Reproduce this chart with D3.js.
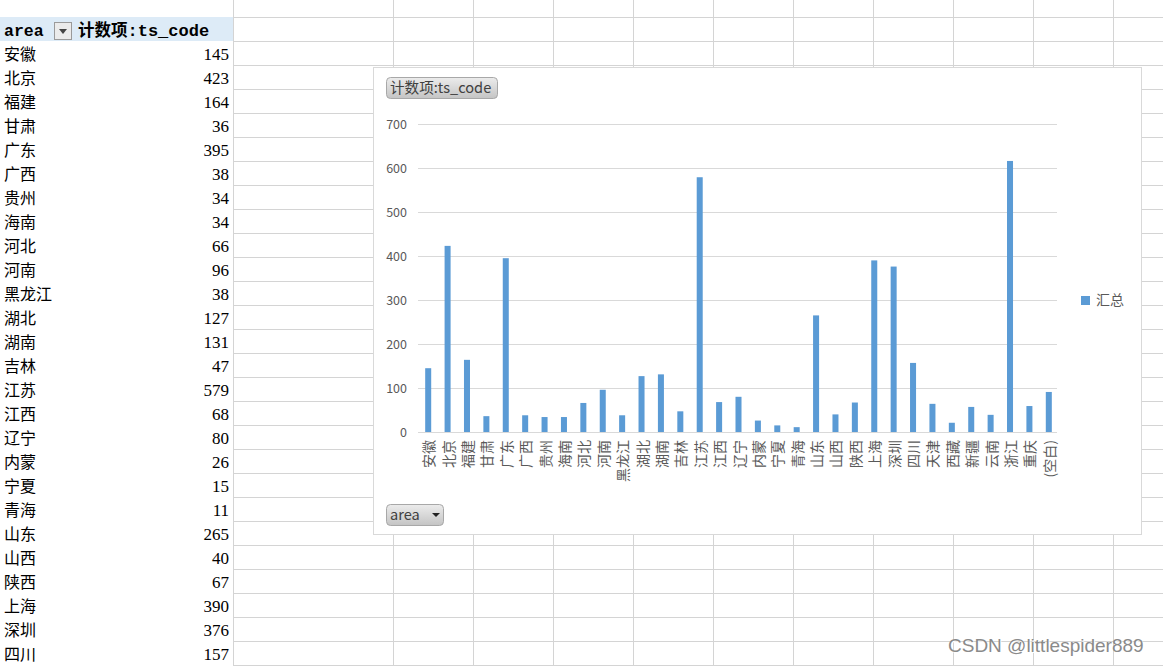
<!DOCTYPE html>
<html><head><meta charset="utf-8">
<script src="https://cdn.jsdelivr.net/npm/d3@7"></script>
<style>
html,body{margin:0;padding:0;background:#fff;overflow:hidden;}
svg{display:block;}
</style></head>
<body>
<svg id="c" width="1163" height="666"></svg>
<script>
// ---- data ----
const categories = ["安徽","北京","福建","甘肃","广东","广西","贵州","海南","河北","河南","黑龙江","湖北","湖南","吉林","江苏","江西","辽宁","内蒙","宁夏","青海","山东","山西","陕西","上海","深圳","四川","天津","西藏","新疆","云南","浙江","重庆","(空白)"];
const counts = [145,423,164,36,395,38,34,34,66,96,38,127,131,47,579,68,80,26,15,11,265,40,67,390,376,157,64,21,57,39,616,59,91];
const yTicks = [0,100,200,300,400,500,600,700];
const seriesName = "汇总";
const fieldName = "计数项:ts_code";
const rowField = "area";

const svg = d3.select("#c");
const W = 1163, H = 666;

// ---- spreadsheet grid ----
const grid = svg.append("g").attr("stroke","#d4d4d4").attr("stroke-width",1);
const colLines = [233,393,473,553,633,713,793,873,953,1033,1113];
for (let y = 17; y < H; y += 24) {
  grid.append("line").attr("x1",233).attr("x2",W).attr("y1",y+0.5).attr("y2",y+0.5);
}
colLines.forEach(x => grid.append("line").attr("x1",x+0.5).attr("x2",x+0.5).attr("y1",0).attr("y2",H));

// ---- pivot table ----
const tbl = svg.append("g");
tbl.append("rect").attr("x",0).attr("y",17).attr("width",233).attr("height",24).attr("fill","#ddebf7");
tbl.append("text").attr("x",4).attr("y",36).attr("font-family","Liberation Mono, monospace")
  .attr("font-weight","bold").attr("font-size",16.5).attr("fill","#000").text(rowField);
tbl.append("rect").attr("x",54.5).attr("y",22.5).attr("width",17).attr("height",17)
  .attr("fill","#ebebeb").attr("stroke","#9a9a9a");
tbl.append("path").attr("d","M59,29 L67,29 L63,34 Z").attr("fill","#444");
const hdr = tbl.append("text").attr("x",78).attr("y",36).attr("font-weight","bold").attr("font-size",16.5).attr("fill","#000");
hdr.append("tspan").attr("font-family","Noto Sans CJK SC").text("计数项");
hdr.append("tspan").attr("font-family","Liberation Mono, monospace").attr("font-size",17).text(":ts_code");

const nRows = 26;
categories.slice(0,nRows).forEach((c,i) => {
  const top = 41 + i*24;
  tbl.append("text").attr("x",4).attr("y",top+19).attr("font-family","Noto Sans CJK SC")
    .attr("font-size",16).attr("fill","#000").text(c);
  tbl.append("text").attr("x",229).attr("y",top+19).attr("text-anchor","end")
    .attr("font-family","Liberation Serif, serif").attr("font-size",17).attr("fill","#000").text(counts[i]);
});

// ---- chart ----
const chart = svg.append("g");
chart.append("rect").attr("x",373.5).attr("y",67.5).attr("width",768).attr("height",467)
  .attr("fill","#fff").attr("stroke","#d9d9d9");

const defs = svg.append("defs");
const grad = defs.append("linearGradient").attr("id","btn").attr("x1",0).attr("x2",0).attr("y1",0).attr("y2",1);
grad.append("stop").attr("offset","0%").attr("stop-color","#ececec");
grad.append("stop").attr("offset","100%").attr("stop-color","#c4c4c4");

chart.append("rect").attr("x",386.5).attr("y",77.5).attr("width",111).attr("height",21).attr("rx",4)
  .attr("fill","url(#btn)").attr("stroke","#a8a8a8");
chart.append("text").attr("x",390).attr("y",93).attr("font-family","Noto Sans CJK SC")
  .attr("font-size",14.6).attr("fill","#404040").text(fieldName);

chart.append("rect").attr("x",386.5).attr("y",504.5).attr("width",57).attr("height",21).attr("rx",4)
  .attr("fill","url(#btn)").attr("stroke","#a8a8a8");
chart.append("text").attr("x",390).attr("y",520).attr("font-family","Noto Sans CJK SC")
  .attr("font-size",14.6).attr("fill","#404040").text(rowField);
chart.append("path").attr("d","M432,513 L440,513 L436,517 Z").attr("fill","#222");

const x = d3.scaleBand().domain(categories).range([418.5,1058.5]).paddingInner(0.69).paddingOuter(0.345);
const y = d3.scaleLinear().domain([0,700]).range([432,124]);

const gGrid = chart.append("g");
gGrid.selectAll("line").data(yTicks).join("line")
  .attr("x1",418).attr("x2",1057).attr("y1",d=>Math.round(y(d))+0.5).attr("y2",d=>Math.round(y(d))+0.5)
  .attr("stroke","#d9d9d9").attr("stroke-width",1);

const yAxis = d3.axisLeft(y).tickValues(yTicks).tickSize(0).tickPadding(0);
const ga = chart.append("g").attr("transform","translate(407,0)").call(yAxis);
ga.select(".domain").remove();
ga.selectAll("text").attr("font-family","Noto Sans CJK SC, sans-serif").attr("font-size",12.5).attr("fill","#595959");

chart.append("g").selectAll("rect").data(categories).join("rect")
  .attr("x",d=>x(d)).attr("width",x.bandwidth())
  .attr("y",(d,i)=>y(counts[i])).attr("height",(d,i)=>y(0)-y(counts[i]))
  .attr("fill","#5b9bd5");

const xAxis = d3.axisBottom(x).tickSize(0).tickPadding(0);
const gx = chart.append("g").attr("transform","translate(0,432)").call(xAxis);
gx.select(".domain").remove();
gx.selectAll("text")
  .attr("font-family","Noto Sans CJK SC").attr("font-size",14).attr("fill","#595959")
  .attr("text-anchor","end").attr("dy",null).attr("y",0)
  .attr("dominant-baseline","central")
  .attr("transform","translate(0,8) rotate(-90)");

// baseline
chart.append("line").attr("x1",418).attr("x2",1057).attr("y1",432.5).attr("y2",432.5).attr("stroke","#d9d9d9");

// legend
chart.append("rect").attr("x",1081).attr("y",296).attr("width",9).attr("height",9).attr("fill","#5b9bd5");
chart.append("text").attr("x",1096).attr("y",305).attr("font-family","Noto Sans CJK SC")
  .attr("font-size",14).attr("fill","#595959").text(seriesName);

// watermark
svg.append("text").attr("x",948).attr("y",652).attr("font-family","Liberation Sans, Arial, sans-serif")
  .attr("font-size",19).attr("fill","#fff").attr("transform","translate(1,1)").text("CSDN @littlespider889");
svg.append("text").attr("x",948).attr("y",652).attr("font-family","Liberation Sans, Arial, sans-serif")
  .attr("font-size",19).attr("fill","#8a8a8a").text("CSDN @littlespider889");
</script>
</body></html>
